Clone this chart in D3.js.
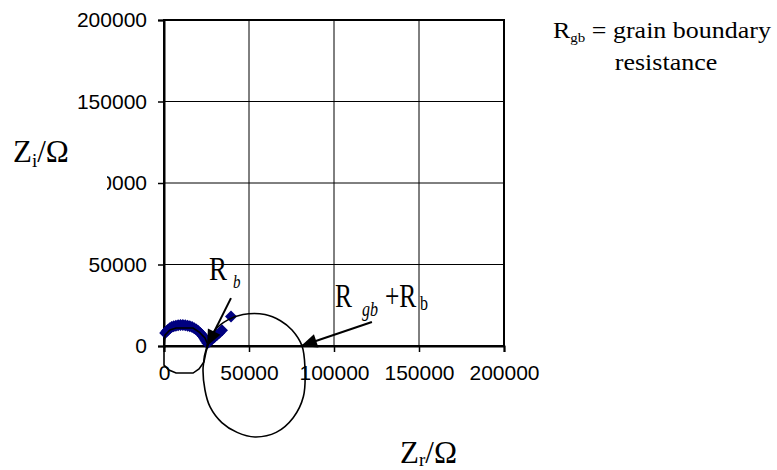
<!doctype html>
<html lang="en">
<head>
<meta charset="UTF-8" />
<title>Impedance plot</title>
<script src="https://d3js.org/d3.v7.min.js"></script>
<style>
    body, html { margin: 0; padding: 0; background: #fff; overflow: hidden; }
    svg { display: block; }
    .tick-label { font-family: "Liberation Sans", Arial, sans-serif; font-size: 21px; fill: #000; }
    .serif { font-family: "Liberation Serif", "Times New Roman", serif; fill: #000; }
</style>
</head>
<body>
<svg id="chart" width="777" height="470"></svg>
<script>
    // measured points (Z real, Z imaginary)
    const zReal = [700, 1500, 2400, 3400, 4500, 5700, 7000, 8300, 9700, 11100, 12500, 13900, 15200, 16500,
        17800, 19000, 20100, 21100, 22000, 22800, 23500, 24200, 24900, 25500, 26700, 28100, 29600, 31100,
        32600, 34100, 39400];
    const zImag = [7900, 9000, 10000, 10900, 11600, 12100, 12500, 12800, 12900, 12900, 12800, 12500, 12100,
        11600, 10900, 10100, 9200, 8200, 7200, 6100, 5000, 3900, 2800, 1700, 2700, 4000, 5400, 6800,
        8200, 9600, 18100];

    const xTicks = [0, 50000, 100000, 150000, 200000];
    const yTicks = [0, 50000, 100000, 150000, 200000];

    // hand drawn outlines of the two arcs
    const smallArcX = [600, 3500, 7100, 17100, 20600, 24100, 25900, 24700, 23500, 20600, 17100, 7100, 2900, 0, 0];
    const smallArcY = [6700, 9800, 11000, 11000, 8600, 4900, 600, -3700, -9800, -14100, -16600, -16600, -14700, -11700, -600];
    const bigArcX = [25300, 30000, 37600, 46500, 59400, 68500, 75300, 81200, 82900, 82000, 76000, 66000,
        53500, 43000, 34000, 27100, 24100, 23000];
    const bigArcY = [0, 9800, 16000, 19300, 19300, 15500, 9800, 0, -13000, -31000, -44000, -53000,
        -55800, -53000, -47000, -37400, -27000, -13000];

    // arrows: [from x, from y, to x, to y]
    const arrowRb = [39400, 29400, 25300, 0];
    const arrowRgb = [122300, 14700, 80600, 0];

    const svg = d3.select("#chart");
    const plotL = 164, plotR = 504, plotT = 20, plotB = 346;

    const x = d3.scaleLinear().domain([0, 200000]).range([plotL, plotR]);
    const y = d3.scaleLinear().domain([0, 200000]).range([plotB, plotT]);

    // grid
    svg.append("g").selectAll("line").data(xTicks.slice(1, -1)).join("line")
        .attr("x1", d => x(d)).attr("x2", d => x(d))
        .attr("y1", plotT).attr("y2", plotB)
        .attr("stroke", "#000").attr("stroke-width", 1);
    svg.append("g").selectAll("line").data(yTicks.slice(1, -1)).join("line")
        .attr("x1", plotL).attr("x2", plotR)
        .attr("y1", d => y(d)).attr("y2", d => y(d))
        .attr("stroke", "#000").attr("stroke-width", 1);

    svg.append("rect")
        .attr("x", plotL).attr("y", plotT)
        .attr("width", plotR - plotL).attr("height", plotB - plotT)
        .attr("fill", "none").attr("stroke", "#000").attr("stroke-width", 2);

    // axes
    const xAxis = svg.append("g")
        .attr("transform", `translate(0,${plotB})`)
        .call(d3.axisBottom(x).tickValues(xTicks).tickSize(6).tickPadding(13).tickFormat(d3.format("d")));
    const yAxis = svg.append("g")
        .attr("transform", `translate(${plotL},0)`)
        .call(d3.axisLeft(y).tickValues(yTicks).tickSize(6).tickPadding(11).tickFormat(d3.format("d")));
    [xAxis, yAxis].forEach(a => {
        a.attr("font-size", null).attr("font-family", null);
        a.select(".domain").attr("stroke-width", 2);
        a.selectAll(".tick line").attr("stroke", "#000").attr("stroke-width", 1.5);
        a.selectAll(".tick text").attr("class", "tick-label");
    });

    // white label box hiding part of the 100000 tick label
    svg.append("rect").attr("x", 0).attr("y", 120).attr("width", 107).attr("height", 80).attr("fill", "#fff");

    const ylab = svg.append("text").attr("class", "serif").attr("x", 13).attr("y", 162).attr("font-size", 31);
    ylab.append("tspan").text("Z");
    ylab.append("tspan").attr("font-size", 19).attr("dy", 5).text("i");
    ylab.append("tspan").attr("dy", -5).text("/Ω");

    const xlab = svg.append("text").attr("class", "serif").attr("x", 400).attr("y", 463).attr("font-size", 31);
    xlab.append("tspan").text("Z");
    xlab.append("tspan").attr("font-size", 19).attr("dy", 3).text("r");
    xlab.append("tspan").attr("dy", -3).text("/Ω");

    // data, drawn as square diamonds
    const pts = zReal.map((v, i) => [v, zImag[i]]);
    svg.append("g").selectAll("path").data(pts).join("path")
        .attr("transform", d => `translate(${x(d[0])},${y(d[1])})`)
        .attr("d", "M0,-6L6,0L0,6L-6,0Z")
        .attr("fill", "#000080");

    // arcs
    svg.append("path").datum(smallArcX.map((v, i) => [v, smallArcY[i]]))
        .attr("d", d3.line().x(d => x(d[0])).y(d => y(d[1])).curve(d3.curveLinearClosed))
        .attr("fill", "none").attr("stroke", "#000").attr("stroke-width", 1.6);
    svg.append("path").datum(bigArcX.map((v, i) => [v, bigArcY[i]]))
        .attr("d", d3.line().x(d => x(d[0])).y(d => y(d[1])).curve(d3.curveCatmullRomClosed))
        .attr("fill", "none").attr("stroke", "#000").attr("stroke-width", 1.6);

    // arrows
    [arrowRb, arrowRgb].forEach(a => {
        const x1 = x(a[0]), y1 = y(a[1]), x2 = x(a[2]), y2 = y(a[3]);
        svg.append("line")
            .attr("x1", x1).attr("y1", y1).attr("x2", x2).attr("y2", y2)
            .attr("stroke", "#000").attr("stroke-width", 2);
        const ang = Math.atan2(y2 - y1, x2 - x1);
        const L = 16, W = 7;
        const bx = x2 - L * Math.cos(ang), by = y2 - L * Math.sin(ang);
        svg.append("path")
            .attr("d", `M${x2},${y2}L${bx - W * Math.sin(ang)},${by + W * Math.cos(ang)}L${bx + W * Math.sin(ang)},${by - W * Math.cos(ang)}Z`)
            .attr("fill", "#000");
    });

    // annotation labels (the original text boxes are stretched, so scale them)
    const rb = svg.append("text").attr("class", "serif")
        .attr("transform", "translate(209,280) scale(1,1.23)").attr("font-size", 27);
    rb.append("tspan").attr("x", 0).attr("y", 0).text("R");
    rb.append("tspan").attr("x", 24).attr("y", 6.5).attr("font-size", 15).attr("font-style", "italic").text("b");

    const rgb = svg.append("text").attr("class", "serif")
        .attr("transform", "translate(335,307) scale(1,1.3)").attr("font-size", 25.5);
    rgb.append("tspan").attr("x", 0).attr("y", 0).text("R");
    rgb.append("tspan").attr("x", 27).attr("y", 7).attr("font-size", 16).attr("font-style", "italic").text("gb");
    rgb.append("tspan").attr("x", 50).attr("y", 0).text("+R");
    rgb.append("tspan").attr("x", 85).attr("y", 2.3).attr("font-size", 16).text("b");

    const note = svg.append("text").attr("class", "serif")
        .attr("transform", "translate(553,38) scale(1,0.9)").attr("font-size", 26);
    note.append("tspan").text("R");
    note.append("tspan").attr("font-size", 15).attr("dy", 4).text("gb");
    note.append("tspan").attr("dy", -4).text(" = grain boundary");
    svg.append("text").attr("class", "serif")
        .attr("transform", "translate(666,70) scale(1,0.9)").attr("font-size", 26)
        .attr("text-anchor", "middle").text("resistance");
</script>
</body>
</html>
